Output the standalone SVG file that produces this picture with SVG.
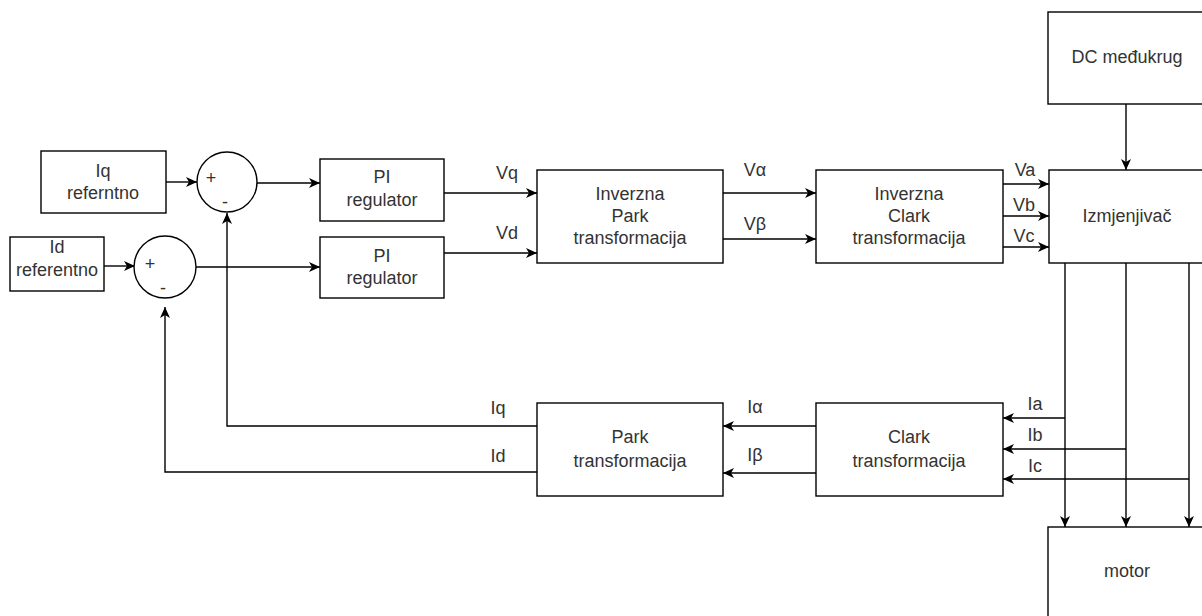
<svg xmlns="http://www.w3.org/2000/svg" width="1202" height="616" viewBox="0 0 1202 616">
<style>
.box{fill:#fff;stroke:#000;stroke-width:1.4}
.t{font-family:"Liberation Sans",Arial,sans-serif;font-size:18px;fill:#333;text-anchor:middle}
.c{fill:none;stroke:#000;stroke-width:1.4}
</style>
<defs>
<marker id="ah" markerWidth="13" markerHeight="12" refX="12" refY="6" orient="auto" markerUnits="userSpaceOnUse">
<path d="M1,1 L12,6 L1,11 L4,6 Z" fill="#000"/>
</marker>
</defs>
<rect width="1202" height="616" fill="#fff"/>
<g id="connectors" class="c" marker-end="url(#ah)">
<path d="M166,182 H197"/>
<path d="M104,266 H135"/>
<path d="M257,183 H320"/>
<path d="M195,267 H320"/>
<path d="M444,193 H537"/>
<path d="M444,253 H537"/>
<path d="M723,193 H816"/>
<path d="M723,239 H816"/>
<path d="M1003,184 H1049"/>
<path d="M1003,216 H1049"/>
<path d="M1003,247 H1049"/>
<path d="M1126,104 V170"/>
<path d="M1065,263 V527"/>
<path d="M1126,263 V527"/>
<path d="M1189,263 V527"/>
<path d="M1065,418 H1003"/>
<path d="M1126,449 H1003"/>
<path d="M1189,479 H1003"/>
<path d="M816,426 H723"/>
<path d="M816,473 H723"/>
<path d="M537,426 H227 V213"/>
<path d="M537,472 H165 V307"/>
</g>
<g id="edge-labels" class="t">
<text x="507" y="179">Vq</text>
<text x="507" y="239">Vd</text>
<text x="755" y="176">Vα</text>
<text x="755" y="230">Vβ</text>
<text x="1025" y="176">Va</text>
<text x="1024" y="211">Vb</text>
<text x="1024" y="242">Vc</text>
<text x="1035" y="410">Ia</text>
<text x="1035" y="441">Ib</text>
<text x="1035" y="472">Ic</text>
<text x="755" y="413">Iα</text>
<text x="755" y="461">Iβ</text>
<text x="498" y="414">Iq</text>
<text x="498" y="462">Id</text>
</g>
<g id="iq-ref"><rect class="box" x="41" y="151" width="125" height="62"/><text class="t" x="103" y="177">Iq</text><text class="t" x="103" y="199">referntno</text></g>
<g id="id-ref"><rect class="box" x="10" y="237" width="94" height="54"/><text class="t" x="57" y="253">Id</text><text class="t" x="57" y="276">referentno</text></g>
<g id="sum1"><circle class="box" cx="227" cy="182" r="30"/><text class="t" x="211" y="184">+</text><text class="t" x="225" y="208">-</text></g>
<g id="sum2"><circle class="box" cx="165" cy="267" r="31"/><text class="t" x="150" y="270">+</text><text class="t" x="163" y="294">-</text></g>
<g id="pi1"><rect class="box" x="320" y="159" width="124" height="62"/><text class="t" x="382" y="183">PI</text><text class="t" x="382" y="206">regulator</text></g>
<g id="pi2"><rect class="box" x="320" y="237" width="124" height="61"/><text class="t" x="382" y="262">PI</text><text class="t" x="382" y="284">regulator</text></g>
<g id="inv-park"><rect class="box" x="537" y="170" width="186" height="93"/><text class="t" x="630" y="200">Inverzna</text><text class="t" x="630" y="222">Park</text><text class="t" x="630" y="244">transformacija</text></g>
<g id="inv-clark"><rect class="box" x="816" y="170" width="187" height="93"/><text class="t" x="909" y="200">Inverzna</text><text class="t" x="909" y="222">Clark</text><text class="t" x="909" y="244">transformacija</text></g>
<g id="izmjenjivac"><rect class="box" x="1049" y="170" width="158" height="93"/><text class="t" x="1127" y="222">Izmjenjivač</text></g>
<g id="dc"><rect class="box" x="1048" y="12" width="159" height="92"/><text class="t" x="1127" y="63">DC međukrug</text></g>
<g id="motor"><rect class="box" x="1048" y="527" width="159" height="93"/><text class="t" x="1127" y="577">motor</text></g>
<g id="park"><rect class="box" x="537" y="403" width="186" height="93"/><text class="t" x="630" y="443">Park</text><text class="t" x="630" y="467">transformacija</text></g>
<g id="clark"><rect class="box" x="816" y="403" width="187" height="93"/><text class="t" x="909" y="443">Clark</text><text class="t" x="909" y="467">transformacija</text></g>
</svg>
